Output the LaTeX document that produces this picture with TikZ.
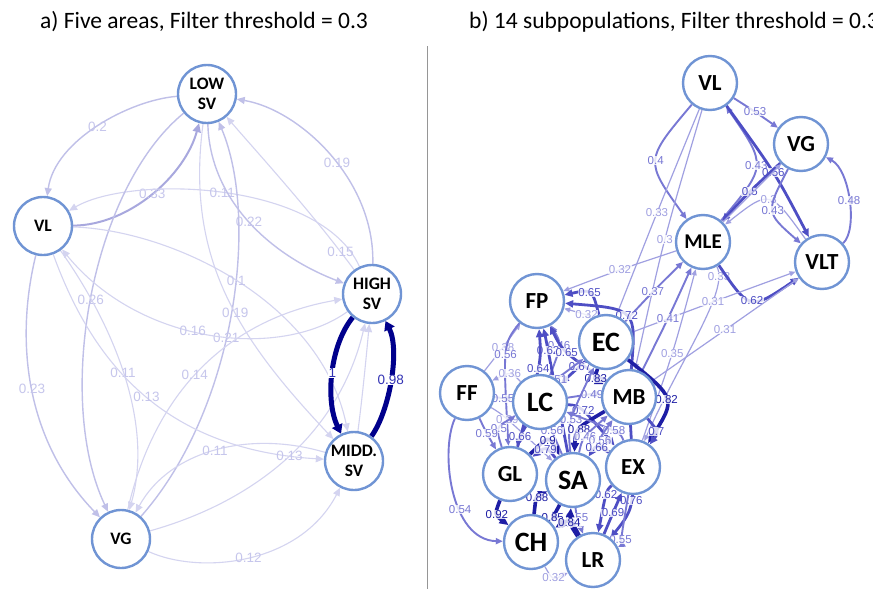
\documentclass[tikz,border=0pt]{standalone}
\usepackage{fontspec}
\setmainfont{Carlito}
\newfontfamily\labfont{Liberation Sans}
\usetikzlibrary{arrows.meta,calc}
\pgfdeclarelayer{back}
\pgfdeclarelayer{bg}
\pgfsetlayers{back,bg,main}
\definecolor{nodeblue}{RGB}{112,148,212}
\definecolor{lc1}{RGB}{212,212,240}
\definecolor{lc2}{RGB}{192,192,232}
\definecolor{lc3}{RGB}{168,168,222}
\definecolor{navyc}{RGB}{0,0,140}
\definecolor{ltxt}{RGB}{198,198,236}
\definecolor{ntxt}{RGB}{50,50,180}
\definecolor{r1}{RGB}{160,160,225}
\definecolor{r2}{RGB}{120,120,212}
\definecolor{r3}{RGB}{78,78,196}
\definecolor{r4}{RGB}{30,30,165}
\definecolor{sepc}{RGB}{150,150,150}
\newcommand{\redge}[5][1]{\draw[w#1] (#2) .. controls ($1.33333*(#4)-0.166667*(#2)-0.166667*(#3)$) .. (#3) node[t#1,pos=.5]{#5};}
\begin{document}
\begin{tikzpicture}[x=1pt,y=-1pt,
  lnode/.style={circle,draw=nodeblue,line width=2.4pt,fill=white,minimum size=58pt,inner sep=0pt,align=center,font=\bfseries\fontsize{17.5}{20}\selectfont},
  rnode/.style={circle,draw=nodeblue,line width=2.4pt,fill=white,minimum size=54pt,inner sep=0pt,font=\bfseries\fontsize{23}{26}\selectfont},
  bignode/.style={font=\bfseries\fontsize{28}{30}\selectfont},
  ll/.style={draw=lc1,line width=1.1pt,-{Triangle[length=8pt,width=7pt]}},
  lm/.style={draw=lc2,line width=1.4pt,-{Triangle[length=8pt,width=7pt]}},
  lt/.style={draw=lc3,line width=2pt,-{Triangle[length=9pt,width=8pt]}},
  ln/.style={draw=navyc,line width=5pt,-{Triangle[length=9pt,width=11pt]}},
  llab/.style={font=\labfont\fontsize{13.5}{14}\selectfont,text=ltxt,inner sep=0.5pt},
  nlab/.style={font=\labfont\fontsize{13.5}{14}\selectfont,text=ntxt,fill=white,inner sep=0.3pt},
  w1/.style={draw=r1,line width=1.2pt,-{Triangle[length=6pt,width=5pt]}},
  w2/.style={draw=r2,line width=1.9pt,-{Triangle[length=7pt,width=6pt]}},
  w3/.style={draw=r3,line width=2.8pt,-{Triangle[length=8pt,width=7pt]}},
  w4/.style={draw=r4,line width=3.6pt,-{Triangle[length=9pt,width=8pt]}},
  rlab/.style={font=\labfont\fontsize{11.5}{12}\selectfont,fill=white,fill opacity=0.8,text opacity=1,inner sep=0.4pt},
  t1/.style={rlab,text=r1},
  t2/.style={rlab,text=r2},
  t3/.style={rlab,text=r3},
  t4/.style={rlab,text=r4},
  sepline/.style={draw=sepc,line width=0.8pt},
  ttl/.style={font=\fontsize{23.5}{27}\selectfont,inner sep=0pt,anchor=base west}
]
\useasboundingbox (0,0) rectangle (873,589);
\begin{pgfonlayer}{back}
\fill[white] (0,0) rectangle (873,589);
\end{pgfonlayer}

% titles and separator
\node[ttl] (ta) at (40,28) {a) Five areas, Filter threshold = 0.3};
\node[ttl] (tb) at (469,28) {b) 14 subpopulations, Filter threshold = 0.3};
\coordinate (s1) at (427,46);
\coordinate (s2) at (427,589);
\draw[sepline] (s1) -- (s2);

% ---------- left panel nodes ----------
\node[lnode] (low) at (207,94) {LOW\\SV};
\node[lnode] (vl) at (43,226) {VL};
\node[lnode] (high) at (372,294) {HIGH\\SV};
\node[lnode] (midd) at (354,461) {MIDD.\\SV};
\node[lnode] (vg) at (121,539) {VG};

% ---------- right panel nodes ----------
\node[rnode] (rvl) at (710,83) {VL};
\node[rnode] (rvg) at (801,144) {VG};
\node[rnode,font=\bfseries\fontsize{21}{24}\selectfont] (mle) at (703,242) {MLE};
\node[rnode] (vlt) at (822,262) {VLT};
\node[rnode] (fp) at (537,301) {FP};
\node[rnode,bignode] (ec) at (606,342) {EC};
\node[rnode] (ff) at (467,393) {FF};
\node[rnode,bignode] (lc) at (540,402) {LC};
\node[rnode] (mb) at (629,397) {MB};
\node[rnode] (gl) at (510,474) {GL};
\node[rnode,bignode] (sa) at (573,480) {SA};
\node[rnode] (ex) at (633,467) {EX};
\node[rnode,bignode] (ch) at (531,542) {CH};
\node[rnode] (lr) at (593,560) {LR};

\begin{pgfonlayer}{bg}
% ---------- left panel edges ----------
\draw[lm] (low) .. controls (130,100) and (55,140) .. (vl) node[llab,pos=.5]{0.2};
\draw[lt] (vl) .. controls (130,225) and (185,175) .. (low) node[llab,pos=.5]{0.33};
\draw[ll] (high) .. controls (320,180) and (130,175) .. (vl) node[llab,pos=.5]{0.11};
\draw[lm] (low) .. controls (210,200) and (270,255) .. (high) node[llab,pos=.5]{0.22};
\draw[lm] (high) .. controls (375,180) and (300,110) .. (low) node[llab,pos=.45]{0.19};
\draw[ll] (high) .. controls (310,210) and (255,150) .. (low) node[llab,pos=.1]{0.15};
\draw[lm] (vg) .. controls (235,410) and (260,220) .. (low) node[llab,pos=.45]{0.21};
\draw[lm] (low) .. controls (90,190) and (55,400) .. (vg) node[llab,pos=.5]{0.26};
\draw[lm] (vl) .. controls (15,340) and (25,440) .. (vg) node[llab,pos=.5]{0.23};
\draw[ll] (high) .. controls (280,360) and (140,345) .. (vl) node[llab,pos=.55]{0.16};
\draw[ll] (vg) .. controls (160,370) and (250,315) .. (high) node[llab,pos=.42]{0.14};
\draw[ll] (low) .. controls (185,260) and (240,340) .. (midd) node[llab,pos=.56]{0.19};
\draw[ll] (vl) .. controls (170,230) and (320,300) .. (midd) node[llab,pos=.5]{0.1};
\draw[ll] (vl) .. controls (110,320) and (155,420) .. (vg) node[llab,pos=.5]{0.11};
\draw[ll] (vl) .. controls (95,370) and (170,450) .. (midd) node[llab,pos=.5]{0.13};
\draw[ll] (midd) .. controls (250,430) and (170,450) .. (vg) node[llab,pos=.5]{0.11};
\draw[ll] (vg) .. controls (260,500) and (340,430) .. (high) node[llab,pos=.5]{0.13};
\draw[ll] (vg) .. controls (200,575) and (300,565) .. (midd) node[llab,pos=.5]{0.12};
\draw[ll] (midd) .. controls (362,400) and (366,360) .. (high);
\draw[ln] (high) .. controls (330,345) and (325,400) .. (midd) node[nlab,pos=.5]{1};
\draw[ln] (midd) .. controls (390,410) and (400,350) .. (high) node[nlab,pos=.5]{0.98};

% ---------- right panel edges ----------
\redge[2]{rvl}{rvg}{755,112}{0.53}
\redge[2]{mle}{rvl}{752,165}{0.43}
\redge[1]{vlt}{mle}{768,205}{0.3}
\redge[3]{rvl}{vlt}{773,173}{0.56}
\redge[3]{rvg}{mle}{750,192}{0.5}
\redge[2]{rvg}{vlt}{777,210}{0.43}
\draw[w1] (mle) -- (rvg);
\draw[w2] (vlt) .. controls (858,230) and (850,170) .. (rvg) node[t2,pos=.5]{0.48};
\redge[2]{rvl}{mle}{660,161}{0.4}
\redge[1]{rvl}{ec}{657,213}{0.33}
\redge[1]{rvl}{mb}{665,240}{0.3}
\redge[1]{mle}{fp}{620,270}{0.32}
\draw[w1] (mle) .. controls (730,290) and (680,360) .. (ex) node[t1,pos=.12]{0.33};
\redge[3]{mle}{vlt}{753,296}{0.62}
\redge[1]{ec}{vlt}{713,302}{0.31}
\redge[1]{mb}{vlt}{725,330}{0.31}
\redge[2]{ec}{mle}{653,292}{0.37}
\redge[2]{mb}{mle}{668,318}{0.41}
\redge[1]{ex}{mle}{672,353}{0.35}
\redge[3]{mb}{fp}{623,319}{0.72}
\redge[3]{ec}{fp}{587,297}{0.65}
\redge[1]{ec}{fp}{585,317}{0.32}
% cluster
\redge[1]{ff}{fp}{503,347}{0.38}
\redge[2]{fp}{gl}{508,355}{0.56}
\redge[2]{lc}{fp}{556,346}{0.46}
\redge[3]{sa}{fp}{548,351}{0.62}
\redge[3]{mb}{fp}{568,351}{0.65}
\redge[3]{gl}{fp}{537,368}{0.64}
\redge[3]{ec}{lc}{580,366}{0.67}
\redge[4]{ec}{mb}{600,377}{0.83}
\redge[1]{lc}{ff}{509,378}{0.36}
\redge[2]{lc}{ec}{557,380}{0.51}
\redge[2]{ff}{lc}{503,398}{0.55}
\redge[2]{lc}{mb}{592,395}{0.49}
\redge[4]{ec}{ex}{662,400}{0.82}
\redge[3]{lc}{ex}{582,413}{0.72}
\redge[1]{ff}{sa}{507,420}{0.39}
\redge[2]{sa}{ec}{573,420}{0.53}
\redge[2]{gl}{lc}{503,430}{0.5}
\redge[2]{ff}{gl}{487,433}{0.59}
\redge[3]{lc}{gl}{521,437}{0.66}
\redge[2]{sa}{lc}{552,431}{0.56}
\redge[4]{mb}{sa}{582,431}{0.88}
\redge[2]{ex}{lc}{612,433}{0.58}
\redge[3]{mb}{ex}{652,432}{0.7}
\redge[2]{sa}{mb}{587,438}{0.46}
\redge[2]{ex}{mb}{605,440}{0.56}
\redge[4]{gl}{sa}{547,446}{0.9}
\redge[3]{sa}{gl}{545,454}{0.79}
\redge[3]{ex}{sa}{598,452}{0.66}
\redge[3]{ex}{lr}{608,496}{0.62}
\redge[3]{mb}{lr}{629,500}{0.76}
\redge[4]{ch}{sa}{540,500}{0.88}
\draw[w2] (ff) .. controls (440,450) and (450,540) .. (ch) node[t2,pos=.62]{0.54};
\redge[4]{gl}{ch}{501,513}{0.92}
\redge[3]{lr}{ex}{613,513}{0.69}
\redge[4]{sa}{ch}{552,517}{0.85}
\redge[2]{sa}{lr}{578,517}{0.55}
\redge[4]{lr}{sa}{573,523}{0.81}
\redge[4]{lr}{ch}{568,527}{0.84}
\redge[2]{ex}{lr}{618,538}{0.55}
\redge[1]{ch}{lr}{555,573}{0.32}
\end{pgfonlayer}
\end{tikzpicture}
\end{document}
